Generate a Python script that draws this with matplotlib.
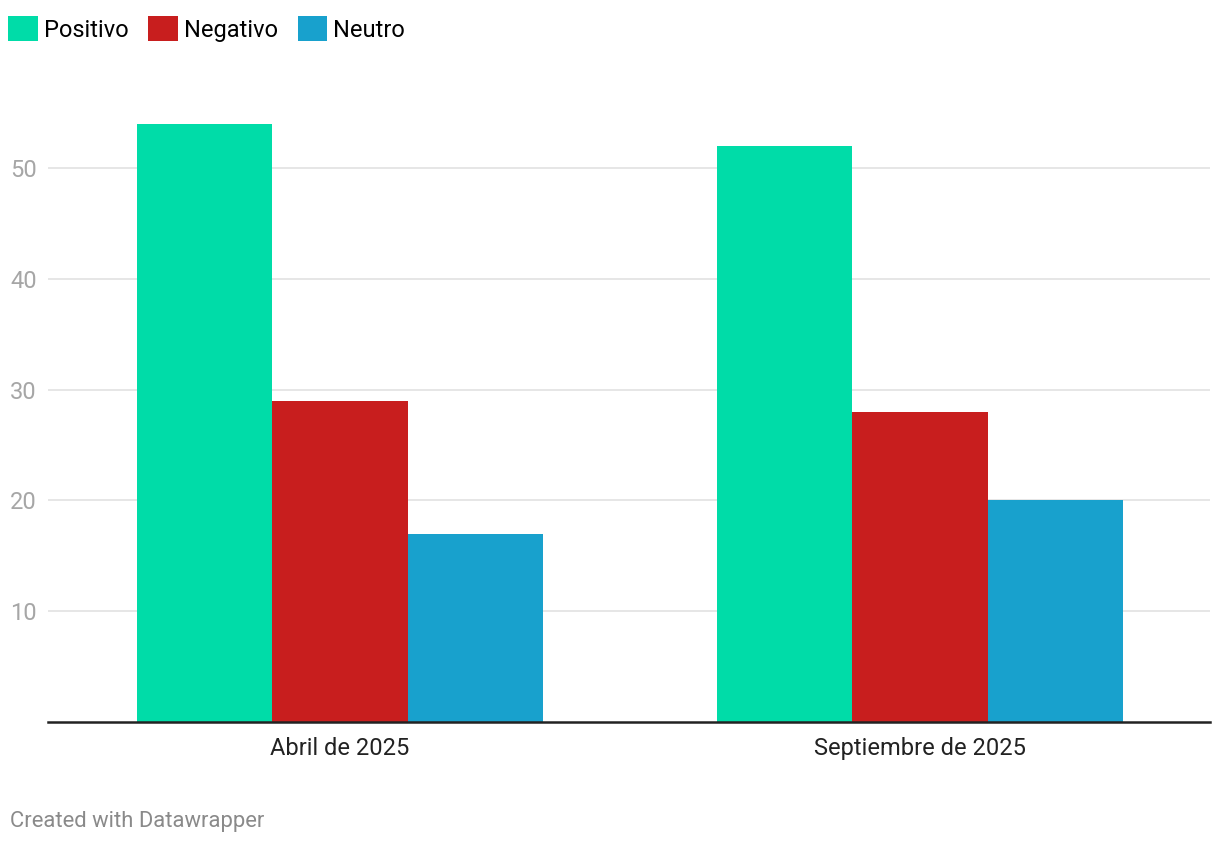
import numpy as np
import matplotlib.pyplot as plt

plt.rcParams['font.family'] = ['Roboto', 'DejaVu Sans']

# datos
periodos = ['Abril de 2025', 'Septiembre de 2025']
series = ['Positivo', 'Negativo', 'Neutro']
positivo = [54, 52]
negativo = [29, 28]
neutro = [17, 20]
colores = ['#00dca8', '#c81e1e', '#18a1cd']

valores = [positivo, negativo, neutro]
x = np.arange(len(periodos))
ancho = 0.2336

fig = plt.figure(figsize=(12.2, 8.44), dpi=100)
ax = fig.add_axes([48 / 1220, 1 - 722 / 844, 1162 / 1220, (722 - 75) / 844])

barras = []
for i, (nombre, vals, col) in enumerate(zip(series, valores, colores)):
    b = ax.bar(x + (i - 1) * ancho, vals, ancho, color=col, label=nombre, zorder=3)
    barras.append(b)

ax.set_xlim(-0.503, 1.5)
ax.set_ylim(0, 58.4)
ax.set_yticks([10, 20, 30, 40, 50])
ax.grid(axis='y', color='#e1e1e1', linewidth=1.2, zorder=0)
ax.set_xticks(x)
ax.set_xticklabels(periodos, fontsize=17, color='#222222')
ax.tick_params(axis='x', length=0, pad=11)
ax.tick_params(axis='y', length=0, labelsize=17, labelcolor='#a6a6a6', pad=8)

for s in ['top', 'right', 'left']:
    ax.spines[s].set_visible(False)
ax.spines['bottom'].set_color('#222222')
ax.spines['bottom'].set_linewidth(1.8)
ax.spines['bottom'].set_zorder(4)

fig.legend(handles=barras, loc='upper left', bbox_to_anchor=(1 / 1220, 1 - 9 / 844),
           ncol=3, frameon=False, fontsize=17, handlelength=1.25, handleheight=1.25,
           handletextpad=0.25, columnspacing=0.85, borderaxespad=0, borderpad=0.3)

fig.text(10 / 1220, 1 - 821 / 844, 'Created with Datawrapper', fontsize=15.8,
         color='#8a8a8a', va='center', ha='left')

fig.savefig('out.png', dpi=100, facecolor='white')
